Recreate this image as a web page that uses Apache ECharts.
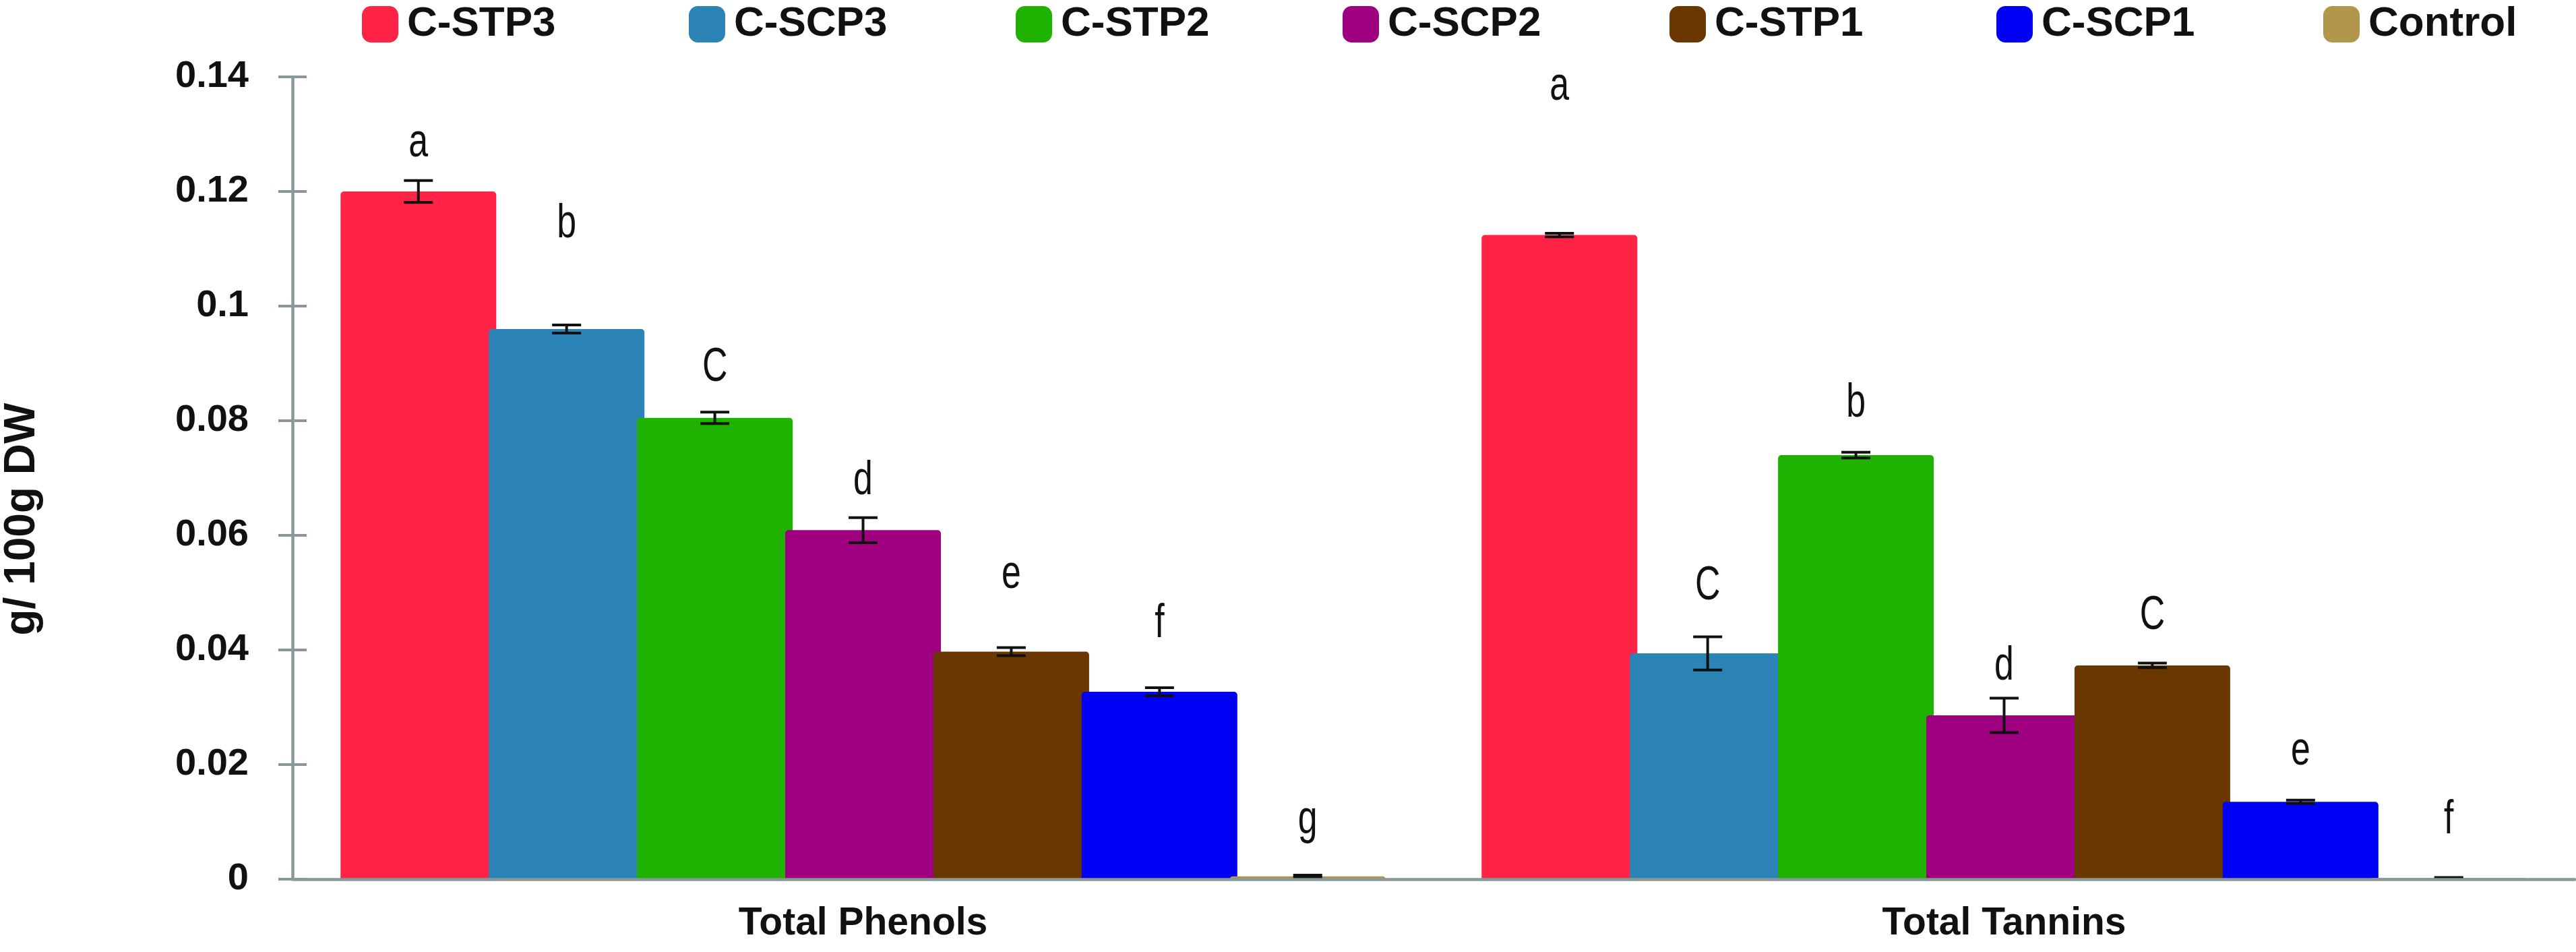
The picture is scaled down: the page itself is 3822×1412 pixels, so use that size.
<!DOCTYPE html>
<html>
<head>
<meta charset="utf-8">
<style>html,body{margin:0;padding:0;background:#fff;}#chart{width:3822px;height:1412px;}</style>
<script src="https://cdn.jsdelivr.net/npm/echarts@6/dist/echarts.min.js"></script>
</head>
<body>
<div id="chart"></div>
<script>
// groups on the x axis
var categories = ['Total Phenols', 'Total Tannins'];
var treatments = ['C-STP3', 'C-SCP3', 'C-STP2', 'C-SCP2', 'C-STP1', 'C-SCP1', 'Control'];
var colors = ['#ff2445', '#2b83b6', '#1fb200', '#9f0080', '#6b3700', '#0000f5', '#b1974b'];

// g/100g DW, one value per treatment
var phenols = [0.1200, 0.0960, 0.0805, 0.0609, 0.0397, 0.0327, 0.0005];
var tannins = [0.1124, 0.0394, 0.0740, 0.0286, 0.0373, 0.0135, 0.0002];
var phenolErr = [0.0019, 0.0007, 0.0010, 0.0022, 0.0007, 0.0007, 0.0002];
var tanninErr = [0.0003, 0.0029, 0.0005, 0.0030, 0.0004, 0.0003, 0.0001];

// significance letters and the height (baseline, in axis units) they sit at
var phenolLetters = ['a', 'b', 'C', 'd', 'e', 'f', 'g'];
var tanninLetters = ['a', 'C', 'b', 'd', 'C', 'e', 'f'];
var phenolLetterY = [0.1266, 0.1124, 0.0874, 0.0676, 0.0513, 0.0427, 0.0084];
var tanninLetterY = [0.1365, 0.0493, 0.0812, 0.0353, 0.0441, 0.0204, 0.0084];

var yTickLabels = ['0', '0.02', '0.04', '0.06', '0.08', '0.1', '0.12', '0.14'];

var AXIS = '#889898';
var BAR_W = 231;
var BAR_GAP = -0.048;
var FONT = '"Liberation Sans", Arial, sans-serif';

var chart = echarts.init(document.getElementById('chart'), null, { renderer: 'canvas' });

var barSeries = treatments.map(function (name, i) {
  return {
    name: name,
    type: 'bar',
    data: [phenols[i], tannins[i]],
    barWidth: BAR_W,
    barGap: (BAR_GAP * 100) + '%',
    itemStyle: { color: colors[i], borderRadius: [5, 5, 0, 0] }
  };
});

// error bars + letters, one item per bar
var markData = [];
treatments.forEach(function (name, i) {
  markData.push([0, i, phenols[i], phenolErr[i], phenolLetters[i], phenolLetterY[i]]);
  markData.push([1, i, tannins[i], tanninErr[i], tanninLetters[i], tanninLetterY[i]]);
});

var letterSize = 70;

var markSeries = {
  type: 'custom',
  z: 5,
  silent: true,
  data: markData,
  renderItem: function (params, api) {
    var cat = api.value(0), s = api.value(1);
    var v = api.value(2), e = api.value(3), ly = api.value(5);
    var pitch = BAR_W * (1 + BAR_GAP);
    var x = api.coord([cat, 0])[0] + (s - (treatments.length - 1) / 2) * pitch;
    var top = api.coord([cat, v + e])[1];
    var bot = api.coord([cat, v - e])[1];
    var cap = 21.5;
    var st = { stroke: '#111', lineWidth: 4 };
    var base = api.coord([cat, ly])[1];
    return {
      type: 'group',
      children: [
        { type: 'line', shape: { x1: x, y1: top, x2: x, y2: bot }, style: st },
        { type: 'line', shape: { x1: x - cap, y1: top, x2: x + cap, y2: top }, style: st },
        { type: 'line', shape: { x1: x - cap, y1: bot, x2: x + cap, y2: bot }, style: st },
        {
          type: 'text',
          x: x,
          y: base - letterSize * 0.22,
          scaleX: 0.74,
          style: {
            text: markData[params.dataIndex][4],
            font: letterSize + 'px ' + FONT,
            fill: '#111',
            align: 'center',
            verticalAlign: 'middle'
          }
        }
      ]
    };
  }
};

// one legend per item so every entry gets the same slot width
var legends = treatments.map(function (name, i) {
  return {
    data: [name],
    left: 532 + i * 485,
    top: 0,
    itemWidth: 54,
    itemHeight: 54,
    icon: 'roundRect',
    textStyle: {
      fontFamily: FONT,
      fontWeight: 'bold',
      fontSize: 62,
      color: '#111',
      padding: [0, 0, 0, 8]
    }
  };
});

var yBase = {
  type: 'value',
  min: 0,
  max: 0.14,
  interval: 0.02,
  splitLine: { show: false }
};

var option = {
  backgroundColor: '#fff',
  animation: false,
  color: colors,
  legend: legends,
  grid: { left: 434, right: 2, top: 114, bottom: 108, outerBoundsMode: 'none' },
  xAxis: [
    {
      type: 'category',
      data: categories,
      z: 10,
      axisLine: { lineStyle: { color: AXIS, width: 4.5 } },
      axisTick: { length: 21, lineStyle: { color: AXIS, width: 4 } },
      axisLabel: { margin: 38, fontFamily: FONT, fontWeight: 'bold', fontSize: 57, color: '#111' }
    },
    {
      type: 'category',
      data: categories,
      position: 'bottom',
      z: 10,
      axisLine: { show: false },
      axisTick: { inside: true, length: 21, lineStyle: { color: AXIS, width: 4 } },
      axisLabel: { show: false }
    }
  ],
  yAxis: [
    Object.assign({}, yBase, {
      z: 10,
      axisLine: { show: true, lineStyle: { color: AXIS, width: 4.5 } },
      axisTick: { show: true, length: 21, lineStyle: { color: AXIS, width: 4 } },
      axisLabel: {
        margin: 65,
        fontFamily: FONT,
        fontWeight: 'bold',
        fontSize: 56,
        color: '#111',
        formatter: function (val, idx) { return yTickLabels[idx]; }
      }
    }),
    Object.assign({}, yBase, {
      position: 'left',
      z: 10,
      axisLine: { show: false },
      axisTick: { show: true, inside: true, length: 21, lineStyle: { color: AXIS, width: 4 } },
      axisLabel: { show: false }
    })
  ],
  graphic: [
    {
      type: 'text',
      x: 33,
      y: 770,
      rotation: Math.PI / 2,
      style: {
        text: 'g/ 100g DW',
        font: 'bold 64px ' + FONT,
        fill: '#111',
        align: 'center',
        verticalAlign: 'middle'
      }
    }
  ],
  series: barSeries.concat([markSeries])
};

chart.setOption(option);
</script>
</body>
</html>
